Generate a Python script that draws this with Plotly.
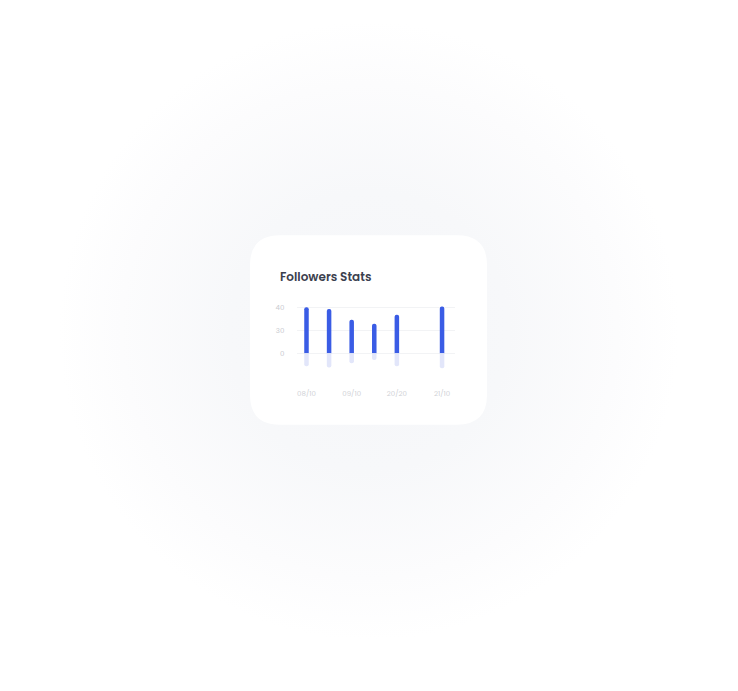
import base64
import plotly.graph_objects as go

# ---- data ----
days = [0, 1, 2, 3, 4, 5, 6]
day_labels = ["08/10", "", "09/10", "", "20/20", "", "21/10"]
gained = [40, 38.3, 29, 25.6, 33.4, None, 40.6]
lost = [-11.2, -12.4, -8.6, -5.8, -11.2, None, -13]
y_tick_vals = [-20, 0, 20, 40]
y_tick_text = ["", "0", "30", "40"]

W, H = 738, 691

def px(x):
    return x / W

def py(y):
    return 1 - y / H

fig = go.Figure()
fig.add_trace(go.Bar(x=days, y=gained, marker=dict(color="#3a5ce5", line=dict(width=0)),
                     width=0.2, hoverinfo="skip"))
fig.add_trace(go.Bar(x=days, y=lost, marker=dict(color="#e2e6fa", line=dict(width=0)),
                     width=0.2, hoverinfo="skip"))

# background radial glow
svg = ('<svg xmlns="http://www.w3.org/2000/svg" width="738" height="691">'
       '<defs><radialGradient id="g" cx="369" cy="330" r="310" gradientUnits="userSpaceOnUse">'
       '<stop offset="0" stop-color="#f5f6f9"/><stop offset="0.45" stop-color="#f7f8fa"/>'
       '<stop offset="0.8" stop-color="#fcfcfd"/>'
       '<stop offset="1" stop-color="#ffffff"/></radialGradient></defs>'
       '<rect width="738" height="691" fill="url(#g)"/></svg>')
src = "data:image/svg+xml;base64," + base64.b64encode(svg.encode()).decode()

# card path with rounded corners (pixel -> paper)
x0, y0, x1, y1, r = 250, 234, 487, 424, 30
def P(x, y):
    return f"{px(x):.5f},{py(y):.5f}"
path = (f"M {P(x0+r, y0)} L {P(x1-r, y0)} Q {P(x1, y0)} {P(x1, y0+r)} "
        f"L {P(x1, y1-r)} Q {P(x1, y1)} {P(x1-r, y1)} L {P(x0+r, y1)} "
        f"Q {P(x0, y1)} {P(x0, y1-r)} L {P(x0, y0+r)} Q {P(x0, y0)} {P(x0+r, y0)} Z")

fig.update_layout(
    width=W, height=H,
    margin=dict(l=0, r=0, t=0, b=0),
    paper_bgcolor="white", plot_bgcolor="rgba(0,0,0,0)",
    showlegend=False,
    barmode="relative",
    barcornerradius=3,
    images=[dict(source=src, xref="paper", yref="paper", x=0, y=1, sizex=1, sizey=1,
                 sizing="stretch", xanchor="left", yanchor="top", layer="below")],
    shapes=[dict(type="path", path=path, xref="paper", yref="paper",
                 fillcolor="white", line=dict(width=0), layer="below")],
    annotations=[dict(text="Followers Stats", xref="paper", yref="paper",
                      x=px(278), y=py(275), xanchor="left", yanchor="middle",
                      showarrow=False,
                      font=dict(family="Poppins, Inter, sans-serif", size=12,
                                color="#3b404e", weight=600))],
    xaxis=dict(domain=[px(297.3), px(454.7)], range=[-0.407, 6.56],
               tickmode="array", tickvals=[0, 2, 4, 6],
               ticktext=[day_labels[i] for i in (0, 2, 4, 6)],
               showgrid=False, zeroline=False, showline=False, ticks="",
               ticklabelstandoff=12,
               tickfont=dict(family="Poppins, Inter, sans-serif", size=7, color="#cfd1d6")),
    yaxis=dict(domain=[py(375.45), py(303.7)], range=[-20, 42],
               tickmode="array", tickvals=y_tick_vals, ticktext=y_tick_text,
               showgrid=True, gridcolor="#f2f3f5", gridwidth=1,
               zeroline=True, zerolinecolor="#f2f3f5", zerolinewidth=1,
               showline=False, ticks="", ticklabelstandoff=12,
               tickfont=dict(family="Poppins, Inter, sans-serif", size=7, color="#c8cacf")),
)

fig.write_html("out.html", config={"displayModeBar": False},
               post_script="document.body.style.margin='0';")
